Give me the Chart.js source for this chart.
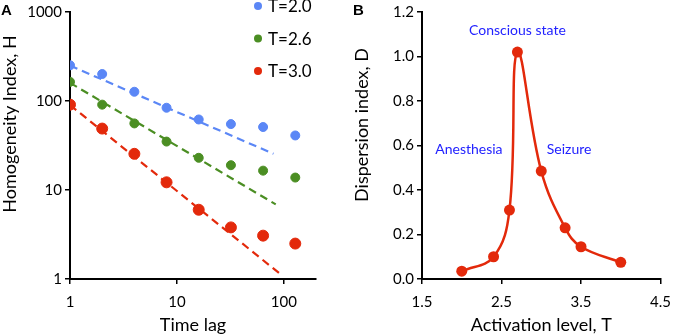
<!DOCTYPE html>
<html>
<head>
<meta charset="utf-8">
<script src="https://cdn.jsdelivr.net/npm/chart.js@4.4.1/dist/chart.umd.min.js"></script>
<style>
  html, body { margin: 0; padding: 0; background: #fff; }
  #wrap { position: relative; width: 680px; height: 336px; overflow: hidden; }
  .panel { position: absolute; top: 0; width: 340px; height: 336px; }
  .tag { position: absolute; top: 1px; font: bold 15px "Liberation Sans", Arial, sans-serif; color: #000; }
</style>
</head>
<body>
<div id="wrap">
  <div class="panel" style="left:0"><canvas id="chartA" width="340" height="336"></canvas></div>
  <div class="panel" style="left:340px"><canvas id="chartB" width="340" height="336"></canvas></div>
  <div class="tag" style="left:1px">A</div>
  <div class="tag" style="left:353px">B</div>
</div>
<script>
// PANEL A DATA - homogeneity index vs time lag (log-log)
const lags = [1, 2, 4, 8, 16, 32, 64, 128];
const hT20 = [252, 201, 127, 84, 62, 55, 51, 41];
const hT26 = [164, 91, 56, 35, 23, 19, 16.5, 13.8];
const hT30 = [91, 49, 25.5, 12.2, 6.0, 3.8, 3.07, 2.5];
// dashed power-law fits (start / end)
const fitLagT20 = [1, 80];
const fitT20 = [250, 25.5];
const fitLagT26 = [1, 84];
const fitT26 = [160, 6.9];
const fitLagT30 = [1, 96];
const fitT30 = [90, 1.1];
const seriesNames = ["T=2.0", "T=2.6", "T=3.0"];
const lagTicks = [1, 10, 100];
const hTicks = [1, 10, 100, 1000];

// PANEL B DATA - dispersion index vs activation level
const activation = [2.0, 2.4, 2.6, 2.7, 3.0, 3.3, 3.5, 4.0];
const dispersion = [0.035, 0.10, 0.31, 1.02, 0.485, 0.23, 0.145, 0.075];
const actTicks = [1.5, 2.5, 3.5, 4.5];
const notes = ["Conscious state", "Anesthesia", "Seizure"];

const FONT = "Lato, 'Open Sans', sans-serif";
const BLUE = "#5B87F6";
const GREEN = "#4B8E23";
const RED = "#E3290B";
const NOTE_BLUE = "#2222FF";

Chart.defaults.font.family = FONT;
Chart.defaults.color = "#000";

function pts(xs, ys) {
  return xs.map((x, i) => ({ x: x, y: ys[i] }));
}

// y-axis title drawn by hand so it can sit a bit above the middle like the original
const sideTitle = {
  id: "sideTitle",
  afterDraw(chart, args, opts) {
    const ctx = chart.ctx;
    ctx.save();
    ctx.translate(opts.x, opts.y);
    ctx.rotate(-Math.PI / 2);
    ctx.font = opts.size + "px " + FONT;
    ctx.fillStyle = "#000";
    ctx.textAlign = "center";
    ctx.textBaseline = "middle";
    ctx.fillText(opts.text, 0, 0);
    ctx.restore();
  },
};

// legend of the point series, stacked in the top right corner
const dotLegend = {
  id: "dotLegend",
  afterDraw(chart, args, opts) {
    const ctx = chart.ctx;
    ctx.save();
    ctx.font = opts.size + "px " + FONT;
    ctx.textBaseline = "middle";
    chart.data.datasets.filter((d) => !d.showLine).forEach((d, i) => {
      const y = opts.y + i * opts.step;
      ctx.fillStyle = d.backgroundColor;
      ctx.beginPath();
      ctx.arc(opts.x, y, 4, 0, Math.PI * 2);
      ctx.fill();
      ctx.fillStyle = "#000";
      ctx.fillText(d.label, opts.x + 10, y + 1);
    });
    ctx.restore();
  },
};

// text notes placed in data coordinates
const notesPlugin = {
  id: "notes",
  afterDraw(chart, args, opts) {
    const ctx = chart.ctx;
    const xs = chart.scales.x, ys = chart.scales.y;
    ctx.save();
    ctx.font = opts.size + "px " + FONT;
    ctx.fillStyle = NOTE_BLUE;
    ctx.textAlign = "center";
    ctx.textBaseline = "middle";
    opts.items.forEach((n) => {
      ctx.fillText(n.text, xs.getPixelForValue(n.x), ys.getPixelForValue(n.y));
    });
    ctx.restore();
  },
};

function axisStyle() {
  return {
    grid: { display: true, drawOnChartArea: false, drawTicks: true, tickLength: 5, color: "#000", lineWidth: 1.5 },
    border: { display: true, color: "#000", width: 2 },
  };
}

// CHART A
new Chart(document.getElementById("chartA"), {
  type: "scatter",
  data: {
    datasets: [
      { label: "fit2.0", data: pts(fitLagT20, fitT20), showLine: true, borderColor: BLUE, borderWidth: 2.2, borderDash: [8, 5], pointRadius: 0, order: 2 },
      { label: "fit2.6", data: pts(fitLagT26, fitT26), showLine: true, borderColor: GREEN, borderWidth: 2.2, borderDash: [8, 5], pointRadius: 0, order: 2 },
      { label: "fit3.0", data: pts(fitLagT30, fitT30), showLine: true, borderColor: RED, borderWidth: 2.2, borderDash: [8, 5], pointRadius: 0, order: 2 },
      { label: seriesNames[0], data: pts(lags, hT20), showLine: false, backgroundColor: BLUE, borderColor: BLUE, pointRadius: 4.5, order: 1 },
      { label: seriesNames[1], data: pts(lags, hT26), showLine: false, backgroundColor: GREEN, borderColor: GREEN, pointRadius: 4.5, order: 1 },
      { label: seriesNames[2], data: pts(lags, hT30), showLine: false, backgroundColor: RED, borderColor: RED, pointRadius: 5.5, order: 1 },
    ],
  },
  options: {
    responsive: false,
    animation: false,
    devicePixelRatio: 1,
    layout: { padding: { top: 8, right: 24, left: 0, bottom: 0 } },
    plugins: {
      legend: { display: false },
      tooltip: { enabled: false },
      sideTitle: { text: "Homogeneity Index, H", x: 10, y: 124, size: 18 },
      dotLegend: { x: 258, y: 6, step: 32.5, size: 17 },
    },
    scales: {
      x: {
        type: "logarithmic",
        min: 1,
        max: 200,
        ...axisStyle(),
        afterBuildTicks: (s) => { s.ticks = lagTicks.map((v) => ({ value: v })); },
        afterFit: (s) => { s.height = 57; },
        ticks: { font: { size: 15 }, padding: 9, maxRotation: 0, callback: (v) => String(v) },
        title: { display: true, text: "Time lag", font: { size: 18 }, padding: { top: 0, bottom: 0 } },
      },
      y: {
        type: "logarithmic",
        min: 1,
        max: 1000,
        ...axisStyle(),
        afterBuildTicks: (s) => { s.ticks = hTicks.map((v) => ({ value: v })); },
        afterFit: (s) => { s.width = 70; },
        ticks: { font: { size: 15 }, padding: 3, callback: (v) => String(v) },
      },
    },
  },
  plugins: [sideTitle, dotLegend],
});

// CHART B
new Chart(document.getElementById("chartB"), {
  type: "scatter",
  data: {
    datasets: [
      {
        label: "D",
        data: pts(activation, dispersion),
        showLine: true,
        tension: 0.4,
        borderColor: RED,
        borderWidth: 2.5,
        backgroundColor: RED,
        pointRadius: 5.5,
        pointBorderWidth: 0,
      },
    ],
  },
  options: {
    responsive: false,
    animation: false,
    devicePixelRatio: 1,
    layout: { padding: { top: 8, right: 10, left: 0, bottom: 0 } },
    plugins: {
      legend: { display: false },
      tooltip: { enabled: false },
      sideTitle: { text: "Dispersion index, D", x: 22, y: 125, size: 18 },
      notes: {
        size: 14,
        items: [
          { text: notes[0], x: 2.7, y: 1.117 },
          { text: notes[1], x: 2.09, y: 0.58 },
          { text: notes[2], x: 3.35, y: 0.58 },
        ],
      },
    },
    scales: {
      x: {
        type: "linear",
        min: 1.5,
        max: 4.5,
        ...axisStyle(),
        afterBuildTicks: (s) => { s.ticks = actTicks.map((v) => ({ value: v })); },
        afterFit: (s) => { s.height = 57; },
        ticks: { font: { size: 15 }, padding: 9, maxRotation: 0, callback: (v) => v.toFixed(1) },
        title: { display: true, text: "Activation level, T", font: { size: 18 }, padding: { top: 0, bottom: 0 } },
      },
      y: {
        type: "linear",
        min: 0,
        max: 1.2,
        ...axisStyle(),
        ticks: { font: { size: 15 }, padding: 3, stepSize: 0.2, callback: (v) => v.toFixed(1) },
        afterFit: (s) => { s.width = 82; },
      },
    },
  },
  plugins: [sideTitle, notesPlugin],
});
</script>
</body>
</html>
